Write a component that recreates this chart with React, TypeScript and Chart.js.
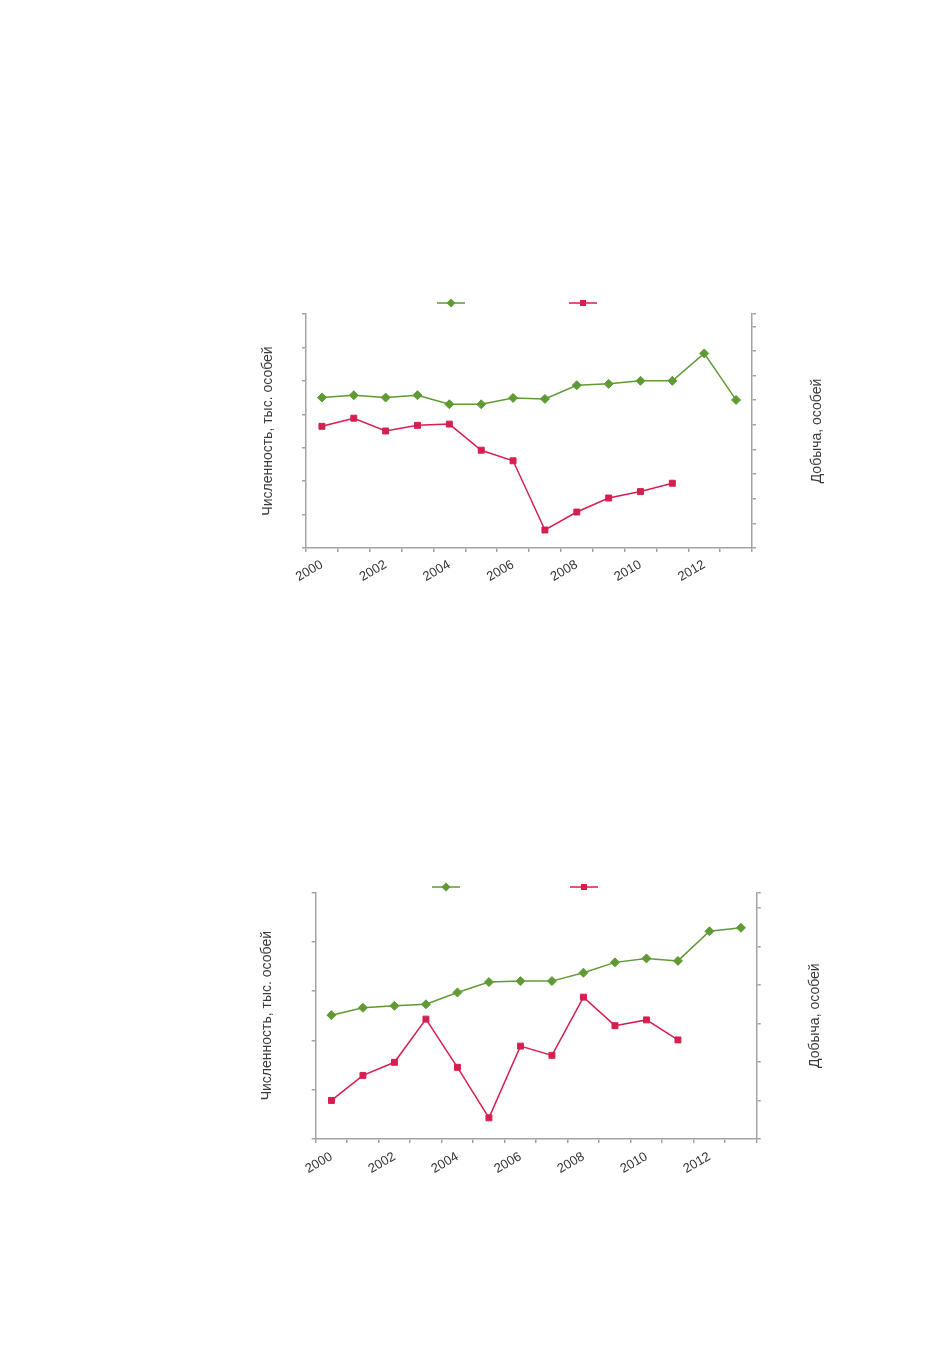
import { useEffect, useRef } from "react";
import { Chart, registerables } from "chart.js";

Chart.register(...registerables);

// shared x categories
const years = ["2000", "2001", "2002", "2003", "2004", "2005", "2006", "2007", "2008", "2009", "2010", "2011", "2012", "2013"];

// chart 1
const population1 = [45.0, 45.7, 45.0, 45.7, 43.0, 43.0, 44.9, 44.6, 48.7, 49.1, 50.0, 50.0, 58.2, 44.3];
const harvest1 = [494, 527, 475, 498, 503, 397, 354, 73, 146, 203, 229, 263, null, null];
const leftTicks1 = [0, 10, 20, 30, 40, 50, 60, 70];
const rightTicks1 = [0, 100, 200, 300, 400, 500, 600, 700, 800, 900];
const rightMax1 = 950;

// chart 2
const population2 = [25.1, 26.6, 27.0, 27.3, 29.7, 31.8, 32.0, 32.0, 33.7, 35.8, 36.6, 36.1, 42.1, 42.8];
const harvest2 = [100, 165, 199, 311, 186, 55, 241, 217, 368, 294, 309, 257, null, null];
const leftTicks2 = [0, 10, 20, 30, 40, 50];
const rightTicks2 = [0, 100, 200, 300, 400, 500, 600];
const rightMax2 = 640;

const leftTitle = "Численность, тыс. особей";
const rightTitle = "Добыча, особей";
const seriesNames = ["Численность", "Добыча"];

const GREEN = "#5f9a34";
const RED = "#d61f50";
const AXIS = "#a3a3a3";
const FONT = "'Liberation Sans', Arial, sans-serif";

// axis titles (both read bottom-to-top) and a text-less legend
const decorations = {
  id: "decorations",
  afterDraw(chart: any, _args: any, opts: any) {
    const { ctx, chartArea } = chart;
    const midY = (chartArea.top + chartArea.bottom) / 2;
    ctx.save();
    ctx.font = `14px ${FONT}`;
    ctx.fillStyle = "#3a3a3a";
    ctx.textAlign = "center";
    ctx.textBaseline = "middle";
    const titles: [number, string][] = [
      [chartArea.left + opts.leftGap, leftTitle],
      [chartArea.right + opts.rightGap, rightTitle],
    ];
    titles.forEach(([x, text]) => {
      ctx.save();
      ctx.translate(x, midY);
      ctx.rotate(-Math.PI / 2);
      ctx.fillText(text, 0, 0);
      ctx.restore();
    });

    const y = opts.legendY;
    chart.data.datasets.forEach((ds: any, i: number) => {
      const cx = opts.legendX[i];
      ctx.strokeStyle = ds.borderColor;
      ctx.lineWidth = 1.5;
      ctx.beginPath();
      ctx.moveTo(cx - 14, y);
      ctx.lineTo(cx + 14, y);
      ctx.stroke();
      ctx.fillStyle = ds.borderColor;
      ctx.beginPath();
      if (ds.pointStyle === "rectRot") {
        ctx.moveTo(cx, y - 4.5);
        ctx.lineTo(cx + 4.5, y);
        ctx.lineTo(cx, y + 4.5);
        ctx.lineTo(cx - 4.5, y);
        ctx.closePath();
      } else {
        ctx.rect(cx - 3, y - 3, 6, 6);
      }
      ctx.fill();
    });
    ctx.restore();
  },
};

type Props = {
  population: number[];
  harvest: (number | null)[];
  leftTicks: number[];
  rightTicks: number[];
  rightMax: number;
  top: number;
  area: { left: number; right: number; top: number; bottom: number };
  gaps: [number, number];
  legendX: [number, number];
  legendY: number;
  labelPadding: number;
};

const W = 620;
const H = 330;

const SeriesChart = ({ population, harvest, leftTicks, rightTicks, rightMax, top, area, gaps, legendX, legendY, labelPadding }: Props) => {
  const canvasRef = useRef<HTMLCanvasElement>(null);

  useEffect(() => {
    if (!canvasRef.current) return;

    const axisGrid = { drawOnChartArea: false, drawTicks: true, tickLength: 4, color: AXIS, lineWidth: 1.5 };
    const axisBorder = { color: AXIS, width: 1.5 };

    const chart = new Chart(canvasRef.current, {
      type: "line",
      data: {
        labels: years,
        datasets: [
          {
            label: seriesNames[0],
            data: population,
            yAxisID: "y",
            borderColor: GREEN,
            backgroundColor: GREEN,
            borderWidth: 1.5,
            pointStyle: "rectRot",
            pointRadius: 4.5,
            pointBorderWidth: 1,
            tension: 0,
          },
          {
            label: seriesNames[1],
            data: harvest,
            yAxisID: "y1",
            borderColor: RED,
            backgroundColor: RED,
            borderWidth: 1.5,
            pointStyle: "rect",
            pointRadius: 4.2,
            pointBorderWidth: 1,
            tension: 0,
          },
        ],
      },
      options: {
        animation: false,
        responsive: true,
        maintainAspectRatio: false,
        layout: { padding: { top: area.top, left: 0, right: 0, bottom: 0 } },
        plugins: {
          legend: { display: false },
          tooltip: { enabled: false },
          decorations: { leftGap: gaps[0], rightGap: gaps[1], legendX, legendY },
        } as any,
        scales: {
          x: {
            offset: true,
            grid: { ...axisGrid, offset: true },
            border: axisBorder,
            ticks: {
              autoSkip: false,
              minRotation: 30,
              maxRotation: 30,
              padding: labelPadding,
              color: "#333",
              font: { family: FONT, size: 13 },
              callback: (_v: any, i: number) => (i % 2 === 0 ? years[i] : ""),
            },
            afterFit: (s: any) => {
              s.height = H - area.bottom;
            },
          },
          y: {
            position: "left",
            min: leftTicks[0],
            max: leftTicks[leftTicks.length - 1],
            grid: axisGrid,
            border: axisBorder,
            ticks: { display: false, stepSize: leftTicks[1] - leftTicks[0] },
            afterFit: (s: any) => {
              s.width = area.left;
            },
          },
          y1: {
            position: "right",
            bounds: "data",
            min: rightTicks[0],
            max: rightMax,
            grid: axisGrid,
            border: axisBorder,
            ticks: { display: false, stepSize: rightTicks[1] - rightTicks[0], includeBounds: false },
            afterFit: (s: any) => {
              s.width = W - area.right;
            },
          },
        },
      },
      plugins: [decorations],
    });

    return () => chart.destroy();
  }, [population, harvest, leftTicks, rightTicks, rightMax, area, gaps, legendX, legendY, labelPadding]);

  return (
    <div style={{ position: "absolute", left: 230, top, width: W, height: H }}>
      <canvas ref={canvasRef}></canvas>
    </div>
  );
};

const App = () => {
  return (
    <div>
      <SeriesChart
        population={population1}
        harvest={harvest1}
        leftTicks={leftTicks1}
        rightTicks={rightTicks1}
        rightMax={rightMax1}
        top={280}
        area={{ left: 76, right: 522, top: 34, bottom: 268 }}
        gaps={[-38, 65]}
        legendX={[221, 353]}
        legendY={23}
        labelPadding={5}
      />
      <SeriesChart
        population={population2}
        harvest={harvest2}
        leftTicks={leftTicks2}
        rightTicks={rightTicks2}
        rightMax={rightMax2}
        top={860}
        area={{ left: 85.7, right: 526.7, top: 32.3, bottom: 279 }}
        gaps={[-49, 58]}
        legendX={[216, 354]}
        legendY={27}
        labelPadding={6}
      />
    </div>
  );
};

export default App;
